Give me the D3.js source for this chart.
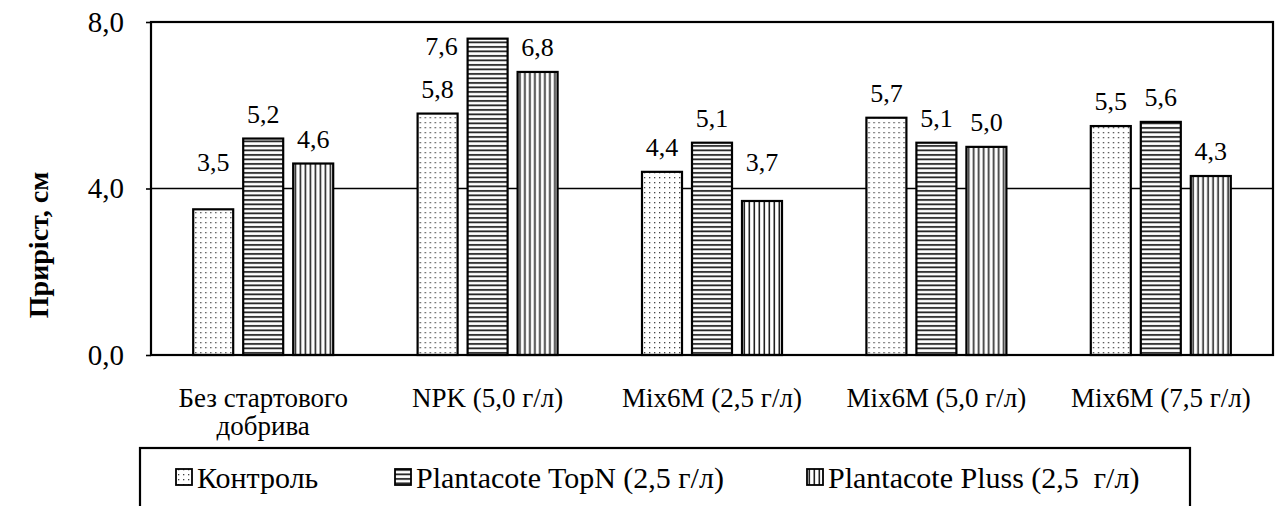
<!DOCTYPE html>
<html><head><meta charset="utf-8">
<script src="https://cdn.jsdelivr.net/npm/d3@7"></script>
<style>body{margin:0;background:#fff}svg{display:block}svg text{font-family:"Liberation Serif","DejaVu Serif",serif}</style>
</head><body>
<script>
const categories = [["Без стартового","добрива"],["NPK (5,0 г/л)"],["Mix6M (2,5 г/л)"],["Mix6M (5,0 г/л)"],["Mix6M (7,5 г/л)"]];
const seriesNames = ["Контроль","Plantacote TopN (2,5 г/л)","Plantacote Pluss (2,5  г/л)"];
const control = [3.5, 5.8, 4.4, 5.7, 5.5];
const topN = [5.2, 7.6, 5.1, 5.1, 5.6];
const pluss = [4.6, 6.8, 3.7, 5.0, 4.3];
const yTicks = [0, 4, 8];
const yTitle = "Приріст, см";

const W = 1276, H = 506;
const m = {left:151, right:1273, top:22, bottom:355};
const svg = d3.select("body").append("svg").attr("width", W).attr("height", H);
const defs = svg.append("defs");
const pd = defs.append("pattern").attr("id","pDots").attr("patternUnits","userSpaceOnUse").attr("width",5).attr("height",5);
pd.append("rect").attr("width",5).attr("height",5).attr("fill","#fff");
pd.append("rect").attr("x",2).attr("y",2).attr("width",1.3).attr("height",1.3).attr("fill","#444");
const ph = defs.append("pattern").attr("id","pH").attr("patternUnits","userSpaceOnUse").attr("width",8).attr("height",4.5);
ph.append("rect").attr("width",8).attr("height",4.5).attr("fill","#fff");
ph.append("rect").attr("y",1).attr("width",8).attr("height",1.8).attr("fill","#222");
const pv = defs.append("pattern").attr("id","pV").attr("patternUnits","userSpaceOnUse").attr("width",5).attr("height",8);
pv.append("rect").attr("width",5).attr("height",8).attr("fill","#fff");
pv.append("rect").attr("x",1.5).attr("width",1.6).attr("height",8).attr("fill","#222");
const fills = ["url(#pDots)","url(#pH)","url(#pV)"];

const series = [control, topN, pluss];
const x0 = d3.scaleBand().domain(d3.range(categories.length)).range([m.left, m.right]).padding(0);
const x1 = d3.scaleBand().domain(d3.range(3)).range([0,140]).paddingInner(0.2).paddingOuter(0);
const y = d3.scaleLinear().domain([0,8]).range([m.bottom, m.top]);
const gridVals = yTicks.filter(v=>v>0 && v<8);

// gridline
svg.append("g").selectAll("line").data(gridVals).join("line")
  .attr("x1",m.left).attr("x2",m.right).attr("y1",d=>y(d)).attr("y2",d=>y(d))
  .attr("stroke","#000").attr("stroke-width",1.6);

// y axis
const ya = svg.append("g").attr("transform",`translate(${m.left},0)`)
  .call(d3.axisLeft(y).tickValues(yTicks).tickSize(5).tickPadding(22).tickFormat(d=>d3.format(".1f")(d).replace(".",",")));
ya.select(".domain").remove();
ya.attr("font-family",null);
ya.selectAll("line").attr("stroke","#000").attr("stroke-width",1.6);
ya.selectAll("text").attr("font-size",29).attr("fill","#000");

// bars
const groups = svg.append("g").selectAll("g").data(categories).join("g")
  .attr("transform",(d,i)=>`translate(${x0(i)+(x0.bandwidth()-140)/2},0)`);
groups.selectAll("rect").data((d,i)=>series.map((s,k)=>({k, v:s[i]}))).join("rect")
  .attr("x",d=>x1(d.k)).attr("width",x1.bandwidth())
  .attr("y",d=>y(d.v)).attr("height",d=>y(0)-y(d.v))
  .attr("fill",d=>fills[d.k]).attr("stroke","#000").attr("stroke-width",2.2);
groups.selectAll("text").data((d,i)=>series.map((s,k)=>({k, v:s[i]}))).join("text")
  .each(function(d){
    const t = d3.select(this);
    const top = y(d.v);
    let cx = x1(d.k)+x1.bandwidth()/2, cy = top - 25;
    gridVals.forEach(g=>{ if (Math.abs(cy - y(g)) < 16) cy = y(g) - 27; });
    if (cy - 12 < m.top) { cx = x1(d.k) - 26; cy = top + 7; }
    t.attr("x",cx).attr("y",cy).attr("dy","0.35em");
  })
  .attr("text-anchor","middle").attr("font-size",26).attr("fill","#000")
  .text(d=>d3.format(".1f")(d.v).replace(".",","));

// frame
svg.append("rect").attr("x",m.left).attr("y",m.top).attr("width",m.right-m.left).attr("height",m.bottom-m.top)
  .attr("fill","none").attr("stroke","#000").attr("stroke-width",2.2);

// category labels
const cl = svg.append("g").selectAll("text").data(categories).join("text")
  .attr("x",(d,i)=>x0(i)+x0.bandwidth()/2).attr("y",407)
  .attr("text-anchor","middle").attr("font-size",27).attr("fill","#000");
cl.selectAll("tspan").data(d=>d).join("tspan")
  .attr("x",function(){return this.parentNode.getAttribute("x");})
  .attr("dy",(d,j)=>j===0?0:28).text(d=>d);

// y title
svg.append("text").attr("transform","translate(48,245) rotate(-90)").attr("text-anchor","middle")
  .attr("font-size",28).attr("font-weight","bold").attr("fill","#000").text(yTitle);

// legend
const lg = svg.append("g");
lg.append("rect").attr("x",140).attr("y",448).attr("width",1050).attr("height",90)
  .attr("fill","none").attr("stroke","#000").attr("stroke-width",2.2);
const lx = [176, 395, 807];
const items = lg.selectAll("g").data(seriesNames).join("g").attr("transform",(d,i)=>`translate(${lx[i]},477)`);
items.append("rect").attr("x",0).attr("y",-8).attr("width",16).attr("height",16)
  .attr("fill",(d,i)=>fills[i]).attr("stroke","#000").attr("stroke-width",1.8);
items.append("text").attr("x",21).attr("y",0).attr("dy","0.35em").attr("font-size",30).attr("fill","#000").attr("xml:space","preserve").style("white-space","pre").text(d=>d);
</script>
</body></html>
